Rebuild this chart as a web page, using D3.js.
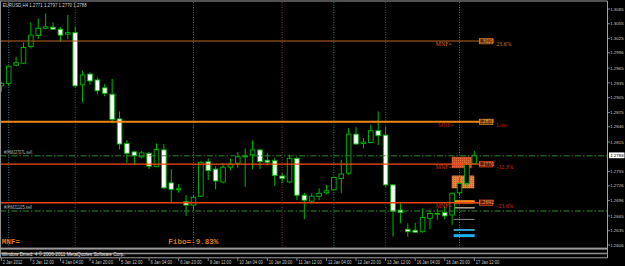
<!DOCTYPE html>
<html lang="en">
<head>
<meta charset="UTF-8">
<title>EURUSD,H4</title>
<script src="https://cdn.jsdelivr.net/npm/d3@7/dist/d3.min.js"></script>
<style>
  body{ margin:0; padding:0; background:#000; }
  #chart svg{ display:block; }
  .axis text{ fill:#c8c8c8; font-family:"Liberation Sans",Arial,sans-serif; font-size:5.4px; }
  .axis text.pt, .axis text.bid{ font-size:4.4px; }
  .fibo text{ font-family:"Liberation Serif","Times New Roman",serif; font-size:5.8px; }
  .boxText{ font-family:"Liberation Sans",Arial,sans-serif; font-size:4.4px; fill:#e0a860; }
  .mono{ font-family:"Liberation Mono","DejaVu Sans Mono",monospace; font-weight:bold; font-size:7.6px; fill:#d9781c; }
  .small{ font-family:"Liberation Sans",Arial,sans-serif; font-size:5px; fill:#c0c0c0; }
</style>
</head>
<body>
<div id="chart"></div>
<script>
// EURUSD H4 bars
const opens  = [1.2929,1.2934,1.2971,1.2975,1.3009,1.3031,1.3046,1.3048,1.3044,1.3034,
                1.3037,1.2931,1.2953,1.2941,1.2925,1.2912,1.2862,1.2812,1.2795,1.2785,
                1.2792,1.2765,1.2799,1.2732,1.2718,1.2694,1.2687,1.2705,1.2775,1.2760,
                1.2734,1.2764,1.2772,1.2785,1.2789,1.2799,1.2778,1.2777,1.2746,1.2734,
                1.2782,1.2707,1.2695,1.2705,1.2712,1.2718,1.2741,1.2752,1.2831,1.2812,
                1.2814,1.2838,1.2829,1.2728,1.2677,1.2638,1.2636,1.2633,1.2660,1.2669,
                1.2672,1.2667,1.2712,1.2731,1.2771];
const highs  = [1.2937,1.2970,1.2988,1.3017,1.3058,1.3066,1.3076,1.3058,1.3048,1.3073,
                1.3049,1.2960,1.2956,1.2946,1.2933,1.2943,1.2877,1.2819,1.2797,1.2797,
                1.2795,1.2812,1.2811,1.2760,1.2730,1.2707,1.2707,1.2775,1.2782,1.2766,
                1.2772,1.2782,1.2795,1.2802,1.2818,1.2800,1.2793,1.2783,1.2752,1.2789,
                1.2785,1.2712,1.2711,1.2721,1.2728,1.2745,1.2779,1.2843,1.2845,1.2823,
                1.2850,1.2877,1.2845,1.2729,1.2691,1.2650,1.2651,1.2680,1.2677,1.2680,
                1.2684,1.2712,1.2744,1.2772,1.2797];
const lows   = [1.2917,1.2929,1.2969,1.2973,1.3005,1.3024,1.3044,1.3043,1.3019,1.3024,
                1.2926,1.2895,1.2931,1.2912,1.2908,1.2853,1.2800,1.2773,1.2768,1.2782,
                1.2760,1.2764,1.2720,1.2691,1.2712,1.2665,1.2677,1.2704,1.2738,1.2719,
                1.2731,1.2758,1.2762,1.2724,1.2760,1.2760,1.2768,1.2726,1.2732,1.2732,
                1.2697,1.2658,1.2691,1.2697,1.2709,1.2716,1.2711,1.2748,1.2809,1.2802,
                1.2812,1.2809,1.2724,1.2623,1.2650,1.2623,1.2631,1.2631,1.2638,1.2657,
                1.2658,1.2647,1.2707,1.2724,1.2770];
const closes = [1.2934,1.2969,1.2976,1.3007,1.3032,1.3046,1.3049,1.3044,1.3032,1.3037,
                1.2929,1.2951,1.2939,1.2919,1.2914,1.2861,1.2811,1.2792,1.2787,1.2793,
                1.2766,1.2800,1.2722,1.2719,1.2720,1.2687,1.2703,1.2774,1.2757,1.2736,
                1.2764,1.2770,1.2785,1.2787,1.2799,1.2775,1.2774,1.2747,1.2741,1.2782,
                1.2707,1.2697,1.2705,1.2711,1.2716,1.2743,1.2750,1.2831,1.2811,1.2815,
                1.2838,1.2828,1.2728,1.2674,1.2672,1.2633,1.2632,1.2662,1.2670,1.2670,
                1.2665,1.2711,1.2731,1.2770,1.2788];

const timeLabels = ["2 Jan 2012","3 Jan 12:00","4 Jan 04:00","4 Jan 20:00","5 Jan 12:00",
                    "6 Jan 04:00","6 Jan 20:00","9 Jan 12:00","10 Jan 04:00","10 Jan 20:00",
                    "11 Jan 12:00","12 Jan 04:00","12 Jan 20:00","13 Jan 12:00","16 Jan 04:00",
                    "16 Jan 20:00","17 Jan 12:00"];
const timeLabelBars = [0,4,8,12,16,20,24,28,32,36,40,44,48,52,56,60,64];

const priceTicks = ["1.3085","1.3055","1.3025","1.2996","1.2965","1.2935","1.2905","1.2875",
                    "1.2846","1.2815","1.2755","1.2726","1.2696","1.2665","1.2635","1.2606"];
const bidPrice = 1.2788;

// fibo style levels drawn on the chart
const fiboPrices = [1.3020, 1.2856, 1.2770, 1.2692];
const fiboNames  = ["23.6%", "Low", "-12.3%", "-23.6%"];

// open orders
const orderPrices = [1.2787, 1.2675];
const orderLabels = ["#/HMJ2707L sell", "#/HMJ1105.sell"];

// period separators (bar index)
const tealSeps  = [1, 26, 45, 62];
const brownSeps = [10, 38, 52];

// shaded zones at the right edge
const zoneHigh = [1.2785, 1.2747];
const zoneLow  = [1.2762, 1.2721];
const zoneFrom = [60.95, 60.95];
const zoneTo   = [63.65, 64];

// level bars at the right edge
const levelHigh = [1.2697, 1.2683, 1.2659, 1.2638, 1.2628];
const levelLow  = [1.2690, 1.2680, 1.2657, 1.2635, 1.2622];

const W = 625, H = 266;
const plotRight = 607.5, plotBottom = 247.5;

const svg = d3.select("#chart").append("svg")
    .attr("width", W).attr("height", H)
    .style("background", "#000");

const x = d3.scaleLinear().domain([0, 64]).range([1.3, 474.3]);
const y = d3.scaleLinear().domain([1.3085, 1.2606]).range([9, 245]);

const defs = svg.append("defs");
defs.append("clipPath").attr("id", "plot")
  .append("rect").attr("x", 1).attr("y", 1.5).attr("width", plotRight - 1).attr("height", plotBottom - 1.5);

// speckled fill like the MT4 rectangles
const pat = defs.append("pattern").attr("id", "speck").attr("width", 2).attr("height", 2)
    .attr("patternUnits", "userSpaceOnUse");
pat.append("rect").attr("width", 2).attr("height", 2).attr("fill", "#e8843a");
pat.append("rect").attr("width", 1).attr("height", 1).attr("fill", "#c8602a");
const pat2 = defs.append("pattern").attr("id", "speck2").attr("width", 2).attr("height", 2)
    .attr("patternUnits", "userSpaceOnUse");
pat2.append("rect").attr("width", 2).attr("height", 2).attr("fill", "#c8482a");
pat2.append("rect").attr("width", 1).attr("height", 1).attr("fill", "#e0703a");

const plot = svg.append("g").attr("clip-path", "url(#plot)");

// separators
plot.selectAll("line.teal").data(tealSeps).join("line").attr("class", "teal")
    .attr("x1", d => x(d)).attr("x2", d => x(d)).attr("y1", 2).attr("y2", plotBottom)
    .attr("stroke", "#2f8080").attr("stroke-width", 1).attr("stroke-dasharray", "1,1.5");
plot.selectAll("line.brown").data(brownSeps).join("line").attr("class", "brown")
    .attr("x1", d => x(d)).attr("x2", d => x(d)).attr("y1", 2).attr("y2", plotBottom)
    .attr("stroke", "#804040").attr("stroke-width", 1).attr("stroke-dasharray", "1,1.5");

// zones (behind candles)
const zoneFill = ["url(#speck2)", "url(#speck)"];
plot.selectAll("rect.zone").data(zoneHigh).join("rect").attr("class", "zone")
    .attr("x", (d, i) => x(zoneFrom[i])).attr("width", (d, i) => x(zoneTo[i]) - x(zoneFrom[i]))
    .attr("y", d => y(d)).attr("height", (d, i) => y(zoneLow[i]) - y(d))
    .attr("fill", (d, i) => zoneFill[i]);

// level bars
const levelFill = ["#ff8c1a", "#b4a88c", "#8c8c8c", "#3cd2ff", "#18b0ee"];
plot.selectAll("rect.level").data(levelHigh).join("rect").attr("class", "level")
    .attr("x", x(61.2)).attr("width", x(64) - x(61.2) + 0.4)
    .attr("y", d => y(d)).attr("height", (d, i) => Math.max(1, y(levelLow[i]) - y(d)))
    .attr("fill", (d, i) => levelFill[i]);

// candles
const bars = opens.map((o, i) => ({i: i, o: o, h: highs[i], l: lows[i], c: closes[i]}));
const green = "#00b800";
const candle = plot.selectAll("g.bar").data(bars).join("g").attr("class", "bar");
candle.append("line")
    .attr("x1", d => x(d.i)).attr("x2", d => x(d.i))
    .attr("y1", d => y(d.h)).attr("y2", d => y(d.l))
    .attr("stroke", green).attr("stroke-width", 1);
candle.append("rect")
    .attr("x", d => x(d.i) - 2.3).attr("width", 4.6)
    .attr("y", d => y(Math.max(d.o, d.c)))
    .attr("height", d => Math.max(0.8, Math.abs(y(d.o) - y(d.c))))
    .attr("fill", d => d.c >= d.o ? "#000" : "#fff")
    .attr("stroke", green).attr("stroke-width", 0.9);

// fibo lines
const fiboColor  = ["#c0641e", "#ee8614", "#ff4a10", "#e84410"];
const fiboWidth  = [1, 2, 1.2, 1.5];
const fiboText   = ["#c87a2a", "#c01010", "#d0301a", "#d0301a"];
const mnfColor   = ["#c07020", "#b01010", "#c03a1a", "#c03a1a"];
const boxFill    = ["#5a2c08", "#6a3508", "#661808", "#661808"];
const boxStroke  = ["#c86e1e", "#d07a1e", "#d0401a", "#d0401a"];
const fibo = plot.append("g").attr("class", "fibo");
fibo.selectAll("line").data(fiboPrices).join("line")
    .attr("x1", 0).attr("x2", x(64.7))
    .attr("y1", d => y(d)).attr("y2", d => y(d))
    .attr("stroke", (d, i) => fiboColor[i]).attr("stroke-width", (d, i) => fiboWidth[i]);
fibo.selectAll("rect").data(fiboPrices).join("rect")
    .attr("x", x(64.7)).attr("width", x(66.5) - x(64.7))
    .attr("y", d => y(d) - 2.6).attr("height", 5.4)
    .attr("fill", (d, i) => boxFill[i]).attr("stroke", (d, i) => boxStroke[i]).attr("stroke-width", 0.8);
fibo.selectAll("text.bx").data(fiboPrices).join("text").attr("class", "boxText")
    .attr("x", x(65.6)).attr("y", d => y(d) + 1.6).attr("text-anchor", "middle")
    .text(d => d.toFixed(4));
fibo.selectAll("text.pc").data(fiboNames).join("text").attr("class", "pc")
    .attr("x", x(67)).attr("y", (d, i) => y(fiboPrices[i]) + 5.2)
    .attr("fill", (d, i) => fiboText[i])
    .text(d => d);
fibo.selectAll("text.mnf").data(fiboPrices).join("text").attr("class", "mnf")
    .attr("x", (d, i) => x(i === 1 ? 59.1 : 58.8)).attr("y", d => y(d) + 5.2)
    .attr("fill", (d, i) => mnfColor[i])
    .text("MNF=");

// order lines
plot.selectAll("line.order").data(orderPrices).join("line").attr("class", "order")
    .attr("x1", 0).attr("x2", plotRight)
    .attr("y1", d => y(d)).attr("y2", d => y(d))
    .attr("stroke", "#2d8a2d").attr("stroke-width", 1).attr("stroke-dasharray", "6,2,1.5,2");
plot.selectAll("text.order").data(orderLabels).join("text").attr("class", "order small")
    .attr("x", 4).attr("y", (d, i) => y(orderPrices[i]) - 1.6)
    .attr("textLength", 28).attr("lengthAdjust", "spacingAndGlyphs")
    .style("font-size", "4.8px").style("fill", "#b4b4b4")
    .text(d => d);

// header
svg.append("text").attr("class", "small").attr("x", 2.7).attr("y", 7)
    .attr("textLength", 84).attr("lengthAdjust", "spacingAndGlyphs")
    .style("font-size", "5.6px").style("fill", "#d0d0d0")
    .text("EURUSD,H4  1.2771 1.2797 1.2770 1.2788");

// bottom labels of the indicator
svg.append("text").attr("class", "mono").attr("x", 1.7).attr("y", 243.5).text("MNF=");
svg.append("text").attr("class", "mono").attr("x", 168.3).attr("y", 243.5).text("Fibo=-9.83%");

// frame
svg.append("line").attr("x1", 0).attr("x2", plotRight).attr("y1", 1).attr("y2", 1)
    .attr("stroke", "#a0a0a0").attr("stroke-width", 1);
svg.append("line").attr("x1", 0.5).attr("x2", 0.5).attr("y1", 1).attr("y2", 258)
    .attr("stroke", "#909090").attr("stroke-width", 1);
svg.append("line").attr("x1", plotRight).attr("x2", plotRight).attr("y1", 1).attr("y2", 258)
    .attr("stroke", "#a0a0a0").attr("stroke-width", 1);

// sub window
svg.append("rect").attr("x", 0).attr("y", 247.6).attr("width", plotRight).attr("height", 2)
    .attr("fill", "#9a9a9a");
svg.append("rect").attr("x", 0).attr("y", 252.7).attr("width", plotRight).attr("height", 1.6)
    .attr("fill", "#8a8a8a");
svg.append("line").attr("x1", 0).attr("x2", plotRight).attr("y1", 257.8).attr("y2", 257.8)
    .attr("stroke", "#a0a0a0").attr("stroke-width", 1);
svg.append("text").attr("class", "small").attr("x", 1.7).attr("y", 255.6)
    .attr("textLength", 123).attr("lengthAdjust", "spacingAndGlyphs")
    .style("font-size", "4.8px").style("fill", "#e6e6e6")
    .text("Window Dmed: 4 © 2006-2011 MetaQuotes Software Corp.");

// price axis
const axis = svg.append("g").attr("class", "axis");
axis.selectAll("line.pt").data(priceTicks).join("line").attr("class", "pt")
    .attr("x1", plotRight).attr("x2", plotRight + 2.5)
    .attr("y1", d => y(+d)).attr("y2", d => y(+d))
    .attr("stroke", "#a0a0a0").attr("stroke-width", 0.8);
axis.selectAll("text.pt").data(priceTicks).join("text").attr("class", "pt")
    .attr("x", 610.2).attr("y", d => y(+d) + 1.6)
    .text(d => d);
axis.append("rect").attr("x", 609).attr("y", y(bidPrice) - 2.9).attr("width", 15.5).attr("height", 5.8)
    .attr("fill", "#fff");
axis.append("text").attr("class", "bid").attr("x", 610.2).attr("y", y(bidPrice) + 1.6)
    .style("fill", "#000").text(bidPrice.toFixed(4));

// time axis
axis.selectAll("line.tt").data(timeLabelBars).join("line").attr("class", "tt")
    .attr("x1", d => x(d)).attr("x2", d => x(d)).attr("y1", 258).attr("y2", 261)
    .attr("stroke", "#a0a0a0").attr("stroke-width", 0.8);
axis.selectAll("text.tt").data(timeLabels).join("text").attr("class", "tt")
    .attr("x", (d, i) => x(timeLabelBars[i]) + 1.5).attr("y", 263.6)
    .attr("textLength", d => d.length * 1.95).attr("lengthAdjust", "spacingAndGlyphs")
    .style("font-size", "5px")
    .text(d => d);
</script>
</body>
</html>
